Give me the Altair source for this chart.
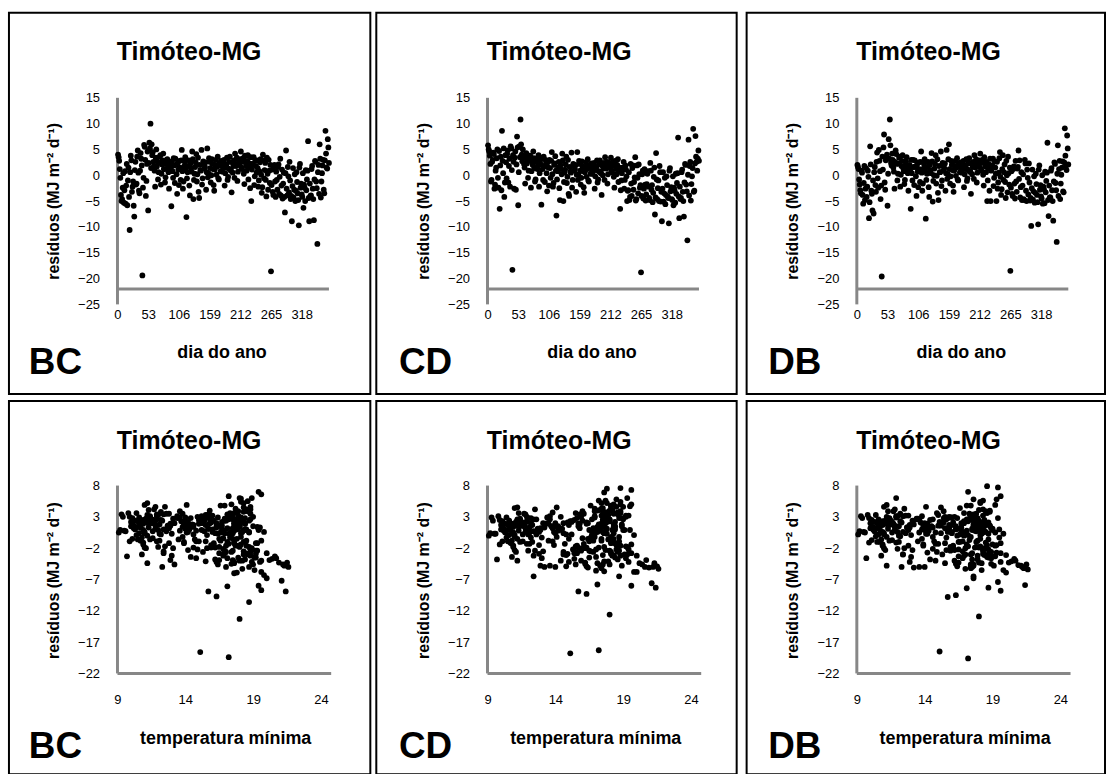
import altair as alt
import pandas as pd

# ---------------- data ----------------
# odd days of the year and even days of the year
DAYS_ODD = list(range(1, 366, 2))
DAYS_EVEN = list(range(2, 365, 2))

# residuals, model BC — odd days
RES_BC = [
    4.0, 2.8, -0.5, -5.0, -2.4, -5.3, 0.8, -2.0, -5.8, 1.5, -10.6, 3.8, -3.2, -1.2, -8.0,
    2.6, -1.6, 4.8, -3.0, 0.9, 3.2, -19.4, -0.5, 5.5, -4.0, 2.2, -6.8, 6.3, 10.0, 6.0,
    4.5, 1.8, -2.2, 5.0, 2.7, 0.6, 3.6, -1.8, 2.1, 4.2, 1.2, -0.4, 3.0, 1.5, -2.6,
    2.4, -6.0, 0.8, 3.3, -1.5, 2.0, -3.6, 1.1, 2.8, -0.9, 4.9, -2.6, 1.7, 3.5, -8.1,
    0.6, 2.9, -3.9, 1.4, 4.6, -4.6, 0.3, 2.5, -1.2, 3.4, -4.4, 1.0, 4.9, -0.6, 2.2,
    1.6, -2.8, 5.2, 0.4, 2.6, -1.4, 3.1, 1.2, -3.0, 2.0, 0.1, 3.6, -0.8, 1.9, 2.8,
    0.7, 2.3, -2.0, 1.5, 3.4, -0.3, 2.6, 1.0, -3.3, 0.5, 2.9, 4.2, 1.8, -1.1, 3.0,
    2.4, 4.6, 1.2, 3.3, -1.7, 2.7, 0.9, 3.9, 1.6, -2.5, -5.0, 2.2, 3.5, -0.2, 1.8,
    2.9, -2.2, 0.8, 3.1, -3.4, 4.0, -0.6, 2.4, -4.1, 0.3, 3.0, -1.5, -18.6, 1.1, -3.8,
    2.0, -4.2, -0.9, 1.6, -3.6, 3.2, -2.0, -4.5, 0.5, -7.2, 4.8, -3.9, -0.2, 2.6, -4.6,
    -8.9, 1.4, -2.8, -5.0, 0.6, -3.5, -9.7, 2.2, -1.6, -4.2, -6.3, -2.4, 1.0, -0.8, 6.6,
    -8.9, -4.0, 1.2, -2.6, -8.7, 2.8, -1.2, -13.3, 2.0, 6.0, -4.3, 0.4, 3.0, -3.5, 8.6, 1.5, 7.0, 2.4,
]
# residuals, model BC — even days
RES_BC_EVEN = [
    3.5, 1.2, -3.8, -4.6, 0.4, -2.9, -5.5, 2.2, -1.0, -4.2, 0.6, 2.9, -2.2, -5.9, 1.0,
    -1.8, 3.6, 0.5, -3.5, 4.3, 1.9, -2.4, 5.9, 3.0, -1.1, 4.6, 2.4, 5.2, 1.4, 3.9,
    2.6, 0.9, 3.4, 1.7, -0.8, 2.4, 3.9, 0.3, 2.9, 1.2, -1.4, 2.2, 3.1, 0.6, 1.9,
    1.3, 2.7, -0.5, 1.9, 3.2, 0.2, 2.4, -1.9, 1.5, 2.9, 0.8, -1.2, 2.6, 1.0, -0.6,
    1.8, -2.0, 2.3, 0.7, 3.1, -0.9, 1.6, 4.1, 0.2, -3.2, 2.0, 0.9, -1.8, 2.7, 1.3,
    2.5, 0.6, -0.4, 3.3, 1.4, 0.0, 2.2, -1.9, 1.1, 3.0, 1.7, -0.6, 2.4, 0.8, 1.9,
    1.6, 3.0, 0.4, 2.1, -0.9, 1.3, 3.6, 0.9, 2.5, 1.8, -0.5, 2.2, 3.4, 0.7, 2.0,
    3.1, 1.5, 2.6, 0.3, 3.8, 1.9, 2.8, -0.8, 2.3, 3.5, 1.1, 2.0, -1.9, 2.9, 0.5,
    1.4, -1.0, 2.5, 0.1, -2.3, 2.9, 1.0, -0.9, 3.4, -2.8, 0.9, 2.0, -1.9, -3.2, 1.7,
    -1.2, 0.7, -2.8, 2.1, -0.3, -3.9, 1.1, -1.6, -4.2, 0.4, -2.6, 1.6, -3.3, -1.0, -4.0,
    -2.1, -4.3, 0.2, -3.0, -1.3, -4.8, 1.5, -2.4, -3.7, 0.4, -1.8, -5.0, -2.9, 0.9, -4.4,
    -1.6, -3.9, 1.8, -4.6, -0.8, 2.6, -2.5, 0.6, -3.6, 3.2, -1.2, 1.9, -2.8, 2.9, 4.2, 1.3, 5.4,
]

# residuals, model CD — odd days
RES_CD = [
    5.8, 4.6, 2.2, -0.9, 3.0, 4.1, -1.8, 1.5, 5.0, -2.4, -6.5, 3.6, 8.6, 0.4, -4.2,
    3.9, -0.6, 4.8, 1.8, -2.2, 5.2, -18.3, 2.6, 3.4, -2.8, 7.5, -5.8, 5.6, 10.8, 4.0,
    5.0, 2.2, -1.6, 4.3, 3.1, 0.9, 3.8, -2.4, 2.5, 4.6, 1.4, -0.8, 3.2, 1.9, -2.2,
    2.9, -5.7, 1.2, 3.6, -1.3, 2.3, -3.1, 1.5, 3.0, -0.5, 4.5, -2.2, 2.0, 3.7, -7.8,
    0.8, 2.6, -4.8, 1.2, 4.2, -5.0, 0.5, 2.1, -1.5, 3.0, -4.0, 0.7, 4.4, -0.9, 1.8,
    1.2, -3.2, 4.5, 0.1, 2.2, -1.8, 2.7, 0.8, -3.4, 1.6, -0.3, 3.1, -1.2, 1.4, 2.3,
    0.3, 1.8, -2.6, 1.0, 2.9, -0.8, 2.1, 0.5, -3.8, 0.0, 2.4, 3.5, 1.3, -1.6, 2.5,
    1.7, 3.4, 0.6, 2.6, -2.4, 2.0, 0.2, 3.1, 0.9, -6.5, -1.0, 1.5, 2.6, -0.9, 1.1,
    -5.0, -2.9, -4.8, 2.2, -4.0, 1.9, -1.3, 3.5, -4.6, -0.5, 2.1, -2.4, -18.8, 0.2, -4.5,
    1.2, -4.9, -1.7, 0.8, -4.4, 2.4, -2.8, -5.2, -0.3, -7.6, 4.3, -4.6, -1.0, 1.8, -5.1,
    -8.9, 0.6, -3.5, -5.6, -0.2, -4.1, -9.3, 1.4, -2.3, -4.8, -5.8, -3.0, 0.3, -1.5, 7.3,
    -8.3, -4.6, 0.6, -3.2, -8.0, 2.2, -1.8, -12.6, 6.9, 1.8, -4.9, -0.2, 9.0, -3.0, 7.6, 2.6, 3.2, 2.8,
]
# residuals, model CD — even days
RES_CD_EVEN = [
    5.0, 3.8, -1.2, 2.6, 4.4, -2.6, 0.9, 3.3, -0.5, 4.7, 1.9, -2.9, 2.8, 5.2, -1.4,
    2.5, 4.1, -1.4, 3.2, 5.6, 1.0, 3.9, -2.6, 4.6, 2.1, 5.4, 0.6, 3.5, 6.0, 2.7,
    3.4, 1.5, 4.0, 2.3, -0.5, 2.9, 3.7, 0.8, 2.0, 3.3, -1.2, 2.6, 1.2, 3.9, 0.4,
    2.1, 3.4, -0.9, 1.7, 3.0, 0.4, 2.5, -2.0, 1.4, 2.8, 0.2, -1.5, 2.3, 0.9, -0.8,
    1.5, -2.5, 2.0, 0.2, 2.9, -1.3, 1.1, 3.6, -0.3, -3.6, 1.6, 0.5, -2.4, 2.2, 0.9,
    2.0, 0.1, -0.9, 2.8, 0.9, -0.5, 1.7, -2.3, 0.6, 2.5, 1.2, -1.0, 1.9, 0.3, 1.4,
    1.1, 2.4, -0.2, 1.6, -1.4, 0.8, 2.9, 0.4, 1.9, 1.3, -0.9, 1.7, 2.6, 0.2, 1.5,
    2.3, 0.9, 1.8, -0.3, 2.8, 1.2, 2.0, -1.3, 1.5, -2.9, 0.4, 1.3, -2.6, 1.9, -0.2,
    -3.0, 0.6, -4.2, -1.6, 1.4, -2.8, -0.4, -4.9, 1.9, -3.5, 0.2, -1.9, -4.0, 0.9, -2.6,
    -1.8, -3.7, 0.3, -2.2, -4.8, 0.9, -1.9, -3.4, 1.5, -4.3, -0.8, -2.5, -5.0, 0.6, -3.2,
    -2.6, -5.1, -0.5, -3.8, -1.9, -4.4, 0.9, -3.1, -4.6, -0.2, -2.4, -5.3, -3.6, 0.4, -4.1,
    -2.2, -4.4, 1.1, -5.0, -1.4, 2.0, -3.1, 0.1, -3.9, 2.6, -1.7, 1.4, -3.2, 2.3, 3.6, 0.9, 4.8,
]

# residuals, model DB — odd days
RES_DB = [
    2.0, 1.2, -1.8, -3.5, 0.5, -5.5, 1.8, -2.6, -4.2, 0.9, -8.3, 5.6, -3.0, -6.8, -7.4,
    1.6, -3.2, 4.4, -2.4, 2.8, -4.6, -19.6, 1.1, 7.9, -2.8, 3.5, -5.9, 7.0, 10.8, 2.4,
    4.2, 1.5, -2.6, 4.8, 2.2, 0.3, 3.4, -2.2, 1.8, 3.9, 0.8, -0.9, 2.7, 1.1, -3.0,
    2.0, -6.5, 0.4, 3.0, -1.9, 1.6, -4.0, 0.7, 2.5, -1.3, 4.6, -3.0, 1.3, 3.1, -8.4,
    0.3, 2.6, -4.2, 1.0, 4.3, -5.1, 0.0, 2.2, -1.6, 3.1, -4.8, 0.6, 4.6, -1.0, 1.9,
    1.4, -3.0, 4.9, 0.2, 6.0, -1.6, 2.8, 1.0, -3.2, 1.8, -0.1, 3.3, -1.0, 1.6, 2.5,
    0.5, 2.0, -2.3, 1.2, 3.1, -0.6, 2.3, 0.7, -3.6, 0.2, 2.6, 3.9, 1.5, -1.4, 2.7,
    2.1, 4.2, 0.9, 3.0, -2.0, 2.4, 0.6, -5.0, 1.3, -3.0, -5.0, 1.9, 3.2, -0.5, 1.5,
    -5.0, -2.6, 0.5, 4.5, -3.8, 1.2, -0.9, 2.1, -4.4, 0.0, 3.6, -1.8, -18.5, 0.8, -4.0,
    1.7, -4.5, -1.2, 1.3, 4.8, 2.9, -2.3, -4.8, 0.2, -4.8, 2.3, -5.0, -0.5, 2.3, -4.9,
    -9.8, 1.1, -3.1, -5.3, 0.3, -3.8, -9.5, 1.9, -1.9, -4.5, -5.5, -2.7, 0.7, -1.1, 6.3,
    -7.9, -4.3, 0.9, -2.9, -8.8, 2.5, -1.5, -12.9, 5.8, 1.2, -4.6, 0.1, 2.7, -3.3, 9.1, 1.8, 7.7, 2.1,
]
# residuals, model DB — even days
RES_DB_EVEN = [
    1.6, -0.8, -2.9, 0.9, -3.8, -1.5, -4.8, 1.4, -2.2, -0.3, -5.2, 2.1, -3.6, -1.0, 0.6,
    -1.9, 2.6, -0.6, 4.9, 0.8, -2.0, 3.6, 5.4, -1.4, 2.9, 4.0, 0.3, 3.2, 5.8, 1.9,
    3.0, 0.7, 2.6, 4.1, -1.0, 2.3, 3.6, 0.1, 2.8, 1.4, -1.7, 2.0, 3.5, 0.4, 1.6,
    1.0, 3.0, -1.0, 1.6, 2.9, -0.2, 2.1, -2.3, 1.2, 2.6, 0.5, -1.6, 2.2, 0.8, -0.9,
    1.6, -2.3, 2.0, 0.4, 2.7, -1.1, 1.3, 3.9, -0.1, -3.4, 1.8, 0.6, -2.1, 2.4, 1.0,
    2.3, 0.4, -0.7, 3.1, 1.2, -0.2, 2.0, -2.0, 0.9, 2.8, 1.5, -0.8, 2.2, 0.6, 1.7,
    1.4, 2.8, 0.2, 1.9, -1.1, 1.1, 3.3, 0.7, 2.3, 1.6, -0.7, 2.0, 3.1, 0.5, 1.8,
    2.9, 1.3, 2.4, 0.1, 3.5, 1.7, 2.6, -1.0, 2.1, 3.2, 0.9, 1.8, -2.1, 2.7, 0.3,
    2.6, -1.4, 3.3, -0.3, -2.7, 3.9, 0.6, -1.3, 2.8, -3.3, 0.4, 1.5, -2.4, -3.6, 1.2,
    -1.6, 2.8, -3.2, 1.6, -0.7, -4.3, 0.6, -2.0, -4.6, 3.0, -3.0, 1.1, -3.7, -1.4, -4.4,
    -2.5, -4.7, -0.2, -3.4, -1.7, -5.2, 1.1, -2.8, -4.1, 0.0, -2.2, -5.4, -3.3, 0.5, -4.8,
    -2.0, -4.3, 1.4, -5.0, -1.2, 2.2, -2.9, 0.3, -4.0, 2.8, -1.6, 1.5, -3.1, 2.5, 3.8, 1.0, 5.2,
]

# minimum temperature — odd days
TMIN = [
    18.5, 18.1, 17.8, 18.7, 19.2, 18.2, 17.6, 18.9, 19.6, 18.0, 18.7, 18.3, 18.8, 17.6, 19.4,
    18.8, 17.9, 16.6, 18.3, 19.4, 17.4, 17.2, 17.5, 18.6, 19.6, 17.8, 20.0, 17.2, 18.5, 18.0,
    18.3, 17.7, 18.8, 17.4, 16.9, 18.2, 17.6, 16.5, 17.9, 18.5, 17.1, 16.8, 17.4, 16.3, 17.0,
    16.9, 17.6, 16.8, 15.5, 16.1, 15.2, 14.8, 15.7, 14.4, 15.0, 14.1, 15.3, 14.6, 13.8, 17.1,
    14.2, 13.6, 12.9, 13.8, 12.5, 13.2, 12.1, 11.6, 12.8, 11.9, 11.2, 12.4, 11.0, 10.5, 11.7,
    11.8, 12.4, 11.2, 10.6, 11.9, 10.9, 11.4, 10.2, 10.8, 11.6, 10.4, 9.8, 10.7, 11.3, 10.1,
    9.6, 10.5, 11.1, 10.0, 9.3, 10.8, 11.5, 10.3, 9.7, 9.1, 10.6, 11.7, 12.1, 10.9, 11.4,
    12.3, 11.8, 12.8, 11.2, 12.5, 13.1, 12.0, 13.6, 12.9, 12.4, 12.3, 14.2, 12.6, 13.8, 14.5,
    14.0, 14.9, 13.6, 15.2, 14.4, 15.8, 14.7, 16.1, 15.5, 16.4, 14.9, 15.9, 15.1, 16.7, 16.2,
    15.8, 16.3, 15.5, 16.7, 17.1, 16.0, 15.6, 17.4, 16.6, 21.1, 16.9, 17.5, 18.1, 17.2, 16.4,
    15.7, 17.6, 18.4, 17.0, 18.7, 17.9, 16.3, 18.3, 17.7, 18.9, 19.8, 19.3, 17.8, 18.5, 19.6,
    21.4, 18.0, 17.5, 18.8, 19.6, 18.4, 19.3, 18.0, 17.6, 18.9, 21.5, 18.1, 17.3, 19.1, 18.8, 18.0, 19.4, 18.7,
]
# minimum temperature — even days
TMIN_EVEN = [
    18.8, 17.9, 18.4, 19.0, 17.5, 18.6, 19.1, 17.9, 18.3, 19.5, 17.4, 18.1, 18.9, 17.8, 18.5,
    18.0, 17.3, 18.7, 19.2, 17.7, 18.4, 16.9, 18.1, 19.0, 17.6, 18.8, 17.0, 18.3, 19.3, 17.9,
    17.5, 18.4, 17.1, 18.0, 16.6, 17.8, 18.6, 17.2, 16.4, 17.7, 18.1, 16.7, 17.3, 16.0, 17.6,
    16.3, 15.8, 16.5, 15.0, 15.9, 14.6, 15.4, 16.2, 14.2, 15.6, 14.8, 13.9, 15.1, 14.3, 13.5,
    13.9, 13.1, 14.0, 12.6, 13.4, 11.9, 12.7, 11.3, 12.2, 13.0, 11.5, 10.9, 12.0, 11.1, 10.7,
    12.2, 11.0, 11.6, 12.0, 10.5, 11.2, 10.0, 11.0, 11.8, 9.9, 10.6, 11.4, 10.3, 9.5, 10.9,
    10.2, 9.4, 11.0, 10.7, 9.9, 11.3, 10.4, 9.2, 10.9, 11.8, 10.1, 11.2, 12.4, 11.6, 10.8,
    11.9, 12.7, 11.5, 13.0, 12.2, 12.9, 13.4, 12.1, 13.7, 12.8, 14.0, 13.2, 14.6, 13.5, 14.1,
    14.6, 13.9, 15.0, 15.6, 14.2, 15.4, 16.0, 14.8, 15.7, 16.5, 15.2, 16.3, 15.9, 16.8, 15.5,
    16.1, 15.4, 16.9, 15.9, 17.3, 16.5, 15.7, 17.0, 17.6, 16.2, 17.4, 16.6, 20.6, 17.1, 18.2,
    16.8, 20.9, 17.4, 18.6, 17.2, 21.3, 19.0, 17.5, 20.4, 16.9, 18.7, 21.6, 19.2, 18.3, 17.6,
    18.5, 20.2, 17.8, 21.2, 19.6, 17.7, 18.3, 19.8, 20.7, 17.9, 19.2, 18.4, 20.0, 17.5, 18.8, 19.5, 18.1,
]

for arr in (RES_BC, RES_CD, RES_DB, TMIN):
    assert len(arr) == len(DAYS_ODD), len(arr)
for arr in (RES_BC_EVEN, RES_CD_EVEN, RES_DB_EVEN, TMIN_EVEN):
    assert len(arr) == len(DAYS_EVEN), len(arr)

TICKS_DAY = [0, 53, 106, 159, 212, 265, 318]
TICKS_RES_TOP = [-25, -20, -15, -10, -5, 0, 5, 10, 15]
TICKS_TMIN = [9, 14, 19, 24]
TICKS_RES_BOT = [-22, -17, -12, -7, -2, 3, 8]
MODELS = ["BC", "CD", "DB"]
PANEL_TITLE = "Timóteo-MG"
Y_TITLE = "resíduos (MJ m⁻² d⁻¹)"
X_TITLES = ["dia do ano", "temperatura mínima"]

# ---------------- layout / style ----------------
FONT = "Liberation Sans"
GREY = "#878787"
W = [363, 362, 360]
H = [383, 375]
AX0 = [109.0, 111.7, 110.7]
RES = [(RES_BC, RES_BC_EVEN), (RES_CD, RES_CD_EVEN), (RES_DB, RES_DB_EVEN)]


def text_layer(txt, x, y, size, align="center", angle=0, baseline="alphabetic"):
    d = pd.DataFrame({"t": [txt]})
    return alt.Chart(d).mark_text(
        font=FONT, fontSize=size, fontWeight="bold", align=align,
        baseline=baseline, color="black", angle=angle,
    ).encode(text="t:N", x=alt.value(x), y=alt.value(y))


def panel(row, col):
    ax0 = AX0[col]
    w = W[col]
    h = H[row]
    res_odd, res_even = RES[col]
    if row == 0:
        data = pd.DataFrame({"x": DAYS_ODD + DAYS_EVEN, "r": res_odd + res_even})
        xdom = [0, 365]
        xr = [ax0, ax0 + 365 * 0.582]
        ydom = [-25, 15]
        yr = [293.0, 85.5]
        xt, yt = TICKS_DAY, TICKS_RES_TOP
        xline = pd.DataFrame({"x": [0], "x2": [365], "r": [-22]})
        yline = pd.DataFrame({"x": [0], "r": [15], "r2": [-25]})
        xpad, xt_y, xt_dx, lab_y, yt_y = 4, 347, 105, 363, 189.5
    else:
        data = pd.DataFrame({"x": TMIN + TMIN_EVEN, "r": res_odd + res_even})
        xdom = [9, 24.75]
        xr = [ax0, ax0 + 15.75 * 13.63]
        ydom = [-22, 8]
        yr = [273.7, 85.0]
        xt, yt = TICKS_TMIN, TICKS_RES_BOT
        xline = pd.DataFrame({"x": [9], "x2": [24.75], "r": [-22]})
        yline = pd.DataFrame({"x": [9], "r": [8], "r2": [-22]})
        xpad, xt_y, xt_dx, lab_y, yt_y = 20, 345, 108.7, 359, 180.5

    xs = alt.Scale(domain=xdom, range=xr, nice=False, zero=False)
    ys = alt.Scale(domain=ydom, range=yr, nice=False, zero=False)
    common = dict(domain=False, ticks=False, tickSize=0, grid=False, title=None,
                  labelFont=FONT, labelFontSize=13, labelColor="black",
                  labelFlush=False, labelOverlap=False)
    xax = alt.Axis(values=xt, orient="bottom", offset=-(h - yr[0]),
                   labelPadding=xpad, **common)
    yax = alt.Axis(values=yt, orient="left", offset=-ax0, labelPadding=18, **common)

    def X():
        return alt.X("x:Q", scale=xs, axis=xax)

    def Y():
        return alt.Y("r:Q", scale=ys, axis=yax)

    pts = alt.Chart(data).mark_circle(size=34, color="black", opacity=1).encode(x=X(), y=Y())
    if row == 1:
        pts = pts.transform_filter("datum.r <= 8")
    hl = alt.Chart(xline).mark_rule(color=GREY, strokeWidth=3).encode(x=X(), x2="x2:Q", y=Y())
    vl = alt.Chart(yline).mark_rule(color=GREY, strokeWidth=3).encode(x=X(), y=Y(), y2="r2:Q")

    t_title = text_layer(PANEL_TITLE, ax0 + 72, 48, 25)
    t_y = text_layer(Y_TITLE, ax0 - 64, yt_y, 16, angle=270, baseline="middle")
    t_x = text_layer(X_TITLES[row], ax0 + xt_dx, xt_y, 18)
    t_lab = text_layer(MODELS[col], ax0 - 89, lab_y, 37, align="left")

    return alt.layer(hl, vl, pts, t_title, t_y, t_x, t_lab).properties(width=w, height=h)


rows = []
for r in range(2):
    rows.append(alt.hconcat(alt.hconcat(panel(r, 0), panel(r, 1), spacing=4), panel(r, 2), spacing=8))

chart = alt.vconcat(rows[0], rows[1], spacing=5).properties(
    padding={"left": 8, "top": 10, "right": 0, "bottom": 0},
    background="white",
).configure_view(stroke="black", strokeWidth=2)

chart.save("out.html", embed_options={"renderer": "svg", "actions": False})
